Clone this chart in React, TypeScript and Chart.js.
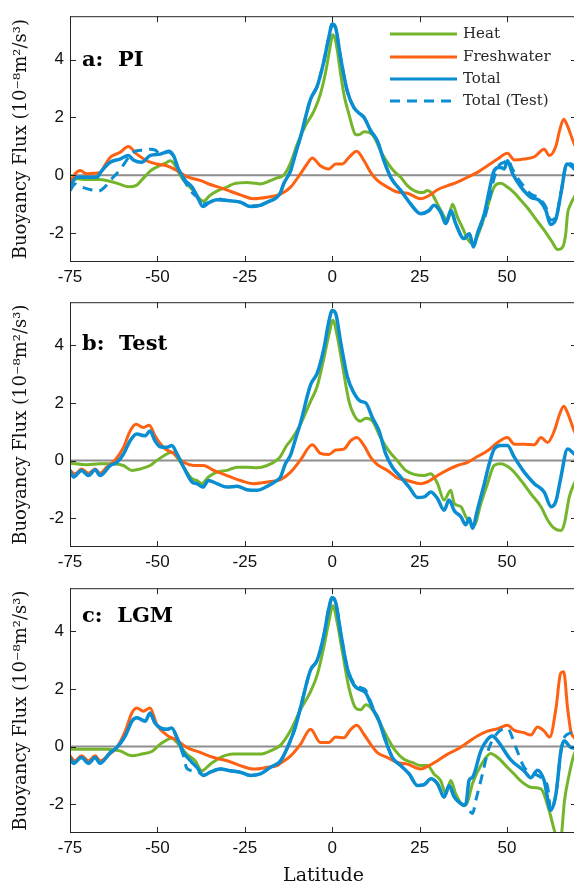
import React, { useEffect, useRef } from 'react';
import { Chart, registerables } from 'chart.js';

Chart.register(...registerables);

// ---------- data: [latitude, buoyancy flux (1e-8 m^2/s^3)] ----------
const X_TICKS = [-75, -50, -25, 0, 25, 50];
const Y_TICKS = [-2, 0, 2, 4];
const ZERO_LINE: [number, number][] = [[-75, 0], [70, 0]];

const A_HEAT: [number, number][] = [[-75,-0.24],[-73,-0.12],[-70,-0.15],[-67,-0.15],[-64,-0.2],[-61,-0.3],[-58.3,-0.4],[-56,-0.35],[-54,-0.1],[-52,0.15],[-50,0.3],[-48,0.4],[-46.3,0.5],[-45,0.35],[-43.5,0.0],[-42,-0.25],[-40,-0.5],[-38.5,-0.75],[-36.8,-0.9],[-35,-0.7],[-33,-0.55],[-30,-0.4],[-28.2,-0.3],[-24.4,-0.25],[-22,-0.28],[-20.6,-0.3],[-18,-0.2],[-16,-0.1],[-13.9,0.0],[-12,0.4],[-10,1.08],[-7.5,1.75],[-5.3,2.2],[-3.4,2.8],[-2,3.5],[-0.8,4.3],[0.2,4.86],[1.2,4.5],[2.4,3.5],[3.5,2.7],[4.8,2.1],[5.8,1.65],[6.7,1.4],[7.6,1.4],[9.1,1.5],[11.5,1.4],[12.5,1.2],[13.8,0.85],[15.2,0.55],[16.7,0.28],[18,0.1],[19.6,-0.07],[21.5,-0.36],[23,-0.5],[24.4,-0.58],[26,-0.6],[27.2,-0.53],[28.3,-0.6],[29.1,-0.76],[31,-1.2],[33,-1.56],[34.4,-1.0],[35.8,-1.45],[37.2,-1.8],[38.7,-2.2],[40.1,-2.36],[41.2,-2.2],[42.5,-1.8],[44.4,-1.1],[46.3,-0.41],[48.2,-0.28],[50.1,-0.41],[52,-0.6],[54,-0.87],[56,-1.15],[57.8,-1.45],[60.6,-1.9],[62.6,-2.25],[64.5,-2.57],[65.9,-2.48],[66.8,-2.0],[67.3,-1.33],[68.2,-1.0],[69.2,-0.76],[70,-0.6]];
const A_FRESH: [number, number][] = [[-75,-0.24],[-73.5,0.05],[-72.1,0.16],[-70.2,0.05],[-68.3,0.07],[-66.4,0.1],[-65,0.35],[-63.5,0.62],[-60.7,0.79],[-58.3,0.99],[-55.9,0.73],[-53,0.5],[-50.2,0.39],[-47.3,0.33],[-44.4,0.16],[-41.6,-0.05],[-37.8,-0.18],[-34.9,-0.32],[-31.1,-0.47],[-26.3,-0.68],[-22.5,-0.81],[-18.6,-0.76],[-14.8,-0.65],[-11.9,-0.41],[-9.1,0.05],[-7.2,0.39],[-5.7,0.6],[-3.4,0.33],[-1,0.22],[1,0.39],[2.9,0.39],[4.8,0.62],[7,0.83],[9.1,0.5],[11,0.1],[12.9,-0.18],[15.8,-0.41],[18.6,-0.58],[21.5,-0.62],[25.3,-0.81],[27.7,-0.7],[30.1,-0.5],[33,-0.36],[35.8,-0.24],[38.7,-0.07],[41.5,0.1],[44.4,0.33],[47.3,0.56],[50.1,0.76],[52.1,0.53],[54.9,0.56],[57.8,0.64],[60.6,0.9],[62.1,0.68],[64,1.02],[65,1.54],[66.2,1.94],[67.3,1.7],[69.2,1.08],[70,0.9]];
const A_TOTAL: [number, number][] = [[-75,-0.41],[-73.1,-0.07],[-70.2,-0.07],[-67.4,-0.07],[-65.9,0.16],[-63.5,0.45],[-60.7,0.56],[-58.3,0.68],[-56.9,0.53],[-54.5,0.45],[-52.1,0.68],[-49.2,0.73],[-46.8,0.83],[-45.4,0.68],[-44,0.22],[-42,-0.18],[-40.1,-0.41],[-38.7,-0.7],[-37,-1.08],[-35.4,-0.96],[-33,-0.85],[-30.1,-0.87],[-26.3,-0.93],[-23.4,-1.08],[-20.6,-1.04],[-18.6,-0.93],[-15.8,-0.76],[-14.8,-0.6],[-13.9,-0.3],[-11.9,0.16],[-10.5,0.75],[-9.1,1.31],[-6.2,2.63],[-4.3,3.08],[-2.4,3.94],[-1,4.75],[0,5.23],[1,5.09],[2.4,4.06],[4.3,2.91],[6.2,2.34],[8.1,2.11],[9.1,2.0],[11,1.54],[12.9,1.19],[14.8,0.5],[16.7,-0.07],[19.6,-0.53],[22.4,-0.99],[25.3,-1.33],[27.7,-1.22],[29.1,-1.04],[31,-1.27],[32.5,-1.67],[33.9,-1.22],[35.3,-1.67],[37.7,-2.19],[39.2,-2.02],[40.4,-2.48],[41.5,-2.02],[43.5,-1.33],[44.9,-0.53],[46.3,0.16],[47.8,0.28],[49.2,0.22],[50.1,0.5],[51.6,0.05],[54,-0.41],[56.8,-0.76],[59.2,-0.87],[61.1,-1.22],[62.4,-1.7],[64,-1.5],[65.4,-0.64],[67.1,0.39],[68.3,0.33],[69.2,0.22],[70,0.2]];
const A_TEST: [number, number][] = [[-75,-0.53],[-73.5,-0.3],[-72,-0.4],[-71.2,-0.43],[-69,-0.5],[-66.9,-0.55],[-65,-0.4],[-63.5,-0.18],[-60.7,0.19],[-57.8,0.68],[-56,0.85],[-54,0.87],[-52,0.9],[-50.6,0.87],[-49.2,0.73],[-46.8,0.8],[-45.4,0.65],[-44,0.2],[-42,-0.25],[-40.1,-0.6],[-38.7,-0.75],[-37,-1.0],[-35.4,-0.95],[-33,-0.82],[-30.1,-0.87],[-26.3,-0.93],[-23.4,-1.06],[-20.6,-1.04],[-18.6,-0.93],[-15.8,-0.76],[-14.8,-0.6],[-13.9,-0.3],[-11.9,0.16],[-10.5,0.75],[-9.1,1.31],[-6.2,2.63],[-4.3,3.08],[-2.4,3.94],[-1,4.75],[0,5.2],[1,5.07],[2.4,4.06],[4.3,2.91],[6.2,2.34],[8.1,2.11],[9.1,2.0],[11,1.54],[12.9,1.19],[14.8,0.5],[16.7,-0.07],[19.6,-0.53],[22.4,-0.99],[25.3,-1.33],[27.7,-1.22],[29.1,-1.04],[31,-1.27],[32.5,-1.67],[33.9,-1.22],[35.3,-1.67],[37.7,-2.19],[39.2,-2.02],[40.4,-2.45],[41.5,-2.02],[42.5,-1.75],[43.5,-1.5],[44.9,-0.85],[46.3,-0.1],[47.8,0.35],[49.2,0.45],[50.1,0.55],[51.6,0.2],[53,-0.1],[54.9,-0.4],[56.8,-0.65],[59.2,-0.8],[61.1,-1.1],[62.4,-1.55],[64,-1.45],[65.4,-0.6],[67.1,0.4],[68.3,0.4],[69.2,0.3],[70,0.25]];

const B_HEAT: [number, number][] = [[-75,-0.09],[-70.2,-0.14],[-66.4,-0.11],[-62.6,-0.11],[-59.7,-0.17],[-57.3,-0.34],[-54.9,-0.29],[-52.1,-0.17],[-50.2,0],[-47.3,0.23],[-45.9,0.29],[-44.4,0.11],[-42.5,-0.23],[-40.1,-0.63],[-38.7,-0.69],[-37.3,-0.8],[-35.4,-0.57],[-33,-0.4],[-30.1,-0.34],[-27.2,-0.23],[-24.4,-0.23],[-21.5,-0.25],[-18.6,-0.17],[-15.8,0.02],[-14.8,0.15],[-12.9,0.55],[-11.9,0.69],[-9.1,1.26],[-6.2,2.06],[-4.3,2.58],[-2.4,3.55],[-1,4.35],[0.2,4.87],[1.4,4.35],[2.9,3.32],[4.8,2.06],[6.7,1.49],[8.1,1.37],[9.6,1.47],[11.5,1.37],[13.8,0.8],[16.2,0.34],[18.6,0],[21,-0.34],[23.4,-0.48],[26.3,-0.52],[28.2,-0.46],[30.1,-0.8],[32,-1.37],[33.9,-1.03],[34.9,-1.49],[36.8,-1.6],[38.2,-1.95],[39.6,-2.18],[40.6,-2.23],[42.5,-1.49],[44.4,-0.8],[46.3,-0.17],[48.2,-0.11],[51.1,-0.29],[54,-0.69],[56.8,-1.15],[59.7,-1.6],[61.6,-2.06],[63.5,-2.35],[65.4,-2.43],[66.4,-2.18],[67.8,-1.26],[69.2,-0.8],[70,-0.6]];
const B_FRESH: [number, number][] = [[-75,-0.34],[-73.6,-0.46],[-71.7,-0.29],[-69.7,-0.44],[-67.8,-0.29],[-66.4,-0.44],[-64.5,-0.23],[-62.1,0.02],[-59.7,0.46],[-57.8,1.03],[-56.1,1.26],[-54,1.15],[-52.3,1.23],[-50.7,0.86],[-48.3,0.46],[-45.4,0.25],[-42.5,-0.06],[-39.7,-0.17],[-36.8,-0.17],[-33.9,-0.34],[-30.1,-0.52],[-26.3,-0.69],[-22.5,-0.8],[-18.6,-0.74],[-14.8,-0.66],[-11.9,-0.4],[-9.1,0.02],[-5.7,0.55],[-3.4,0.25],[-1,0.21],[1,0.37],[3.3,0.4],[5.3,0.69],[7,0.8],[9.1,0.52],[11,0.11],[12.9,-0.14],[15.8,-0.34],[18.6,-0.6],[21.5,-0.69],[25.3,-0.8],[27.7,-0.71],[30.1,-0.52],[33,-0.32],[35.8,-0.17],[38.7,-0.06],[41.5,0.14],[44.4,0.34],[47.3,0.63],[50.1,0.8],[52.1,0.57],[54.9,0.57],[57.8,0.55],[59.7,0.8],[61.6,0.63],[63.5,1.03],[65,1.6],[66.2,1.89],[67.3,1.66],[69.2,1.03],[70,0.85]];
const B_TOTAL: [number, number][] = [[-75,-0.34],[-74,-0.57],[-71.7,-0.34],[-69.7,-0.52],[-67.8,-0.32],[-66.4,-0.52],[-63.5,-0.17],[-61.6,-0.06],[-59.7,0.23],[-57.8,0.69],[-55.9,0.92],[-53.5,0.86],[-52.1,1.03],[-50.7,0.69],[-49.2,0.48],[-47.3,0.46],[-45.9,0.52],[-44.4,0.23],[-42.5,-0.23],[-40.1,-0.74],[-38.7,-0.8],[-37,-0.92],[-35.4,-0.69],[-33,-0.8],[-30.1,-0.92],[-27.2,-0.89],[-24.4,-1.01],[-21.5,-1.03],[-18.6,-0.89],[-15.8,-0.69],[-14.8,-0.57],[-13.4,-0.11],[-11.9,0.2],[-10.5,0.75],[-9.1,1.3],[-6.2,2.63],[-4.3,3.04],[-2.4,3.89],[-1,4.81],[0,5.21],[1,5.1],[2.4,4.12],[4.3,2.92],[6.2,2.35],[8.1,2.06],[9.6,2.0],[11.5,1.49],[13.4,1.03],[15.3,0.23],[17.2,-0.23],[19.6,-0.57],[22,-0.92],[24.4,-1.28],[26.3,-1.26],[28.2,-1.09],[30.1,-1.32],[32,-1.72],[33.4,-1.37],[34.9,-1.74],[36.8,-1.95],[38.2,-2.23],[39.2,-2.0],[40.1,-2.35],[41.5,-1.72],[43.5,-0.8],[44.9,-0.11],[46.3,0.4],[48.2,0.52],[50.1,0.52],[52.1,0.11],[54.9,-0.4],[57.8,-0.8],[60.6,-1.09],[62.6,-1.6],[64,-1.4],[65.4,-0.57],[67.3,0.4],[69.2,0.23],[70,0.15]];

const C_HEAT: [number, number][] = [[-75,-0.09],[-70.2,-0.09],[-64.5,-0.09],[-60.7,-0.15],[-57.3,-0.32],[-54.5,-0.26],[-51.6,-0.17],[-49.2,0.08],[-45.9,0.29],[-44,0.08],[-41.6,-0.26],[-39.2,-0.49],[-37.3,-0.84],[-34.9,-0.61],[-32,-0.38],[-28.2,-0.26],[-24.4,-0.26],[-20.6,-0.26],[-17.7,-0.15],[-14.8,0.05],[-12,0.54],[-9.1,1.28],[-6.2,1.91],[-4.3,2.49],[-2.4,3.46],[-1,4.32],[0.2,4.89],[1.4,4.32],[2.9,3.29],[4.8,2.03],[6.7,1.34],[8.1,1.28],[9.6,1.45],[11.5,1.28],[13.4,0.88],[15.8,0.31],[18.1,-0.15],[20.5,-0.44],[22.9,-0.55],[25.3,-0.66],[27.2,-0.66],[29.1,-0.95],[31,-1.18],[32.5,-1.64],[33.9,-1.18],[35.3,-1.64],[37.7,-2.05],[38.7,-1.92],[40.1,-1.29],[42.5,-0.66],[45.3,-0.24],[47.3,-0.38],[50.1,-0.72],[52,-0.95],[54,-1.2],[56.8,-1.41],[59.7,-1.47],[62,-2.21],[63.5,-2.9],[64.5,-3.3],[65.5,-3.1],[66.4,-1.9],[67.8,-0.95],[69.2,-0.26],[70,-0.1]];
const C_FRESH: [number, number][] = [[-75,-0.32],[-73.6,-0.49],[-71.7,-0.32],[-69.7,-0.49],[-67.8,-0.32],[-66.4,-0.49],[-63.5,-0.24],[-61.6,-0.03],[-59.2,0.54],[-57.3,1.17],[-55.9,1.34],[-54,1.23],[-52.1,1.34],[-50.2,0.77],[-47.3,0.4],[-44.4,0.22],[-41.6,-0.03],[-37.8,-0.2],[-33.9,-0.38],[-30.1,-0.49],[-26.3,-0.66],[-22.5,-0.78],[-18.6,-0.72],[-15.8,-0.66],[-14.8,-0.58],[-11.9,-0.32],[-9.1,0.08],[-6.2,0.6],[-3.4,0.14],[-1,0.14],[1,0.33],[3.3,0.31],[5.3,0.6],[7,0.74],[9.1,0.42],[11,0.08],[12.9,-0.21],[15.8,-0.38],[18.6,-0.55],[21.5,-0.61],[25.3,-0.78],[27.7,-0.66],[30.1,-0.49],[33,-0.26],[35.8,-0.09],[38.7,0.14],[41.5,0.37],[44.4,0.54],[47.3,0.62],[50.1,0.74],[52.1,0.56],[54.9,0.48],[56.8,0.4],[58.7,0.68],[60.6,0.54],[62.2,0.33],[64,1.34],[65.3,2.54],[66.2,2.6],[67.3,1.34],[68.3,0.5],[69.2,0.31],[70,0.2]];
const C_TOTAL: [number, number][] = [[-75,-0.38],[-74,-0.58],[-71.7,-0.38],[-69.7,-0.58],[-67.8,-0.38],[-66.4,-0.58],[-63.5,-0.21],[-61.6,-0.03],[-59.2,0.37],[-57.3,0.88],[-55.9,1.0],[-53.5,0.88],[-52.1,1.17],[-50.7,0.82],[-49.2,0.65],[-47.3,0.6],[-45.9,0.65],[-44.4,0.31],[-42.5,-0.21],[-40.1,-0.55],[-38.7,-0.72],[-36.8,-1.0],[-34.9,-0.89],[-32,-0.78],[-29.2,-0.84],[-26.3,-0.89],[-23.4,-1.0],[-20.6,-0.95],[-17.7,-0.72],[-14.8,-0.5],[-12,0.2],[-10.5,0.7],[-9.1,1.34],[-6.2,2.66],[-4.3,3.0],[-2.4,3.86],[-1,4.78],[0,5.18],[1,5.0],[2.4,3.97],[4.3,2.71],[6.2,2.14],[8.1,1.97],[9.6,1.86],[11.5,1.34],[13.4,0.88],[15.3,0.19],[17.2,-0.38],[19.6,-0.66],[22,-0.95],[24.4,-1.35],[26.3,-1.32],[28.2,-1.12],[30.1,-1.29],[32,-1.75],[33.4,-1.35],[34.9,-1.75],[36.8,-1.98],[37.7,-2.04],[38.4,-1.9],[39.1,-1.18],[40.1,-1.07],[42.5,-0.15],[44.4,0.25],[45.8,0.37],[47.3,0.2],[51,-0.45],[54.9,-0.85],[56.8,-1.08],[58.7,-0.82],[60.6,-1.18],[62.5,-2.21],[64,-1.63],[65.4,-0.15],[66.3,0.2],[68.3,-0.03],[70,-0.05]];
const C_TEST: [number, number][] = [[-75,-0.38],[-74,-0.58],[-71.7,-0.38],[-69.7,-0.58],[-67.8,-0.38],[-66.4,-0.58],[-63.5,-0.21],[-61.6,-0.03],[-59.2,0.37],[-57.3,0.88],[-55.9,1.0],[-53.5,0.9],[-52.1,1.12],[-50.7,0.82],[-49.2,0.65],[-47.3,0.6],[-45.9,0.62],[-44.4,0.31],[-43.5,0.0],[-42.6,-0.3],[-41.6,-0.75],[-39.7,-0.84],[-38.7,-0.85],[-36.8,-1.0],[-34.9,-0.89],[-32,-0.78],[-29.2,-0.84],[-26.3,-0.89],[-23.4,-1.0],[-20.6,-0.95],[-17.7,-0.72],[-14.8,-0.5],[-12,0.2],[-10.5,0.7],[-9.1,1.34],[-6.2,2.66],[-4.3,3.0],[-2.4,3.86],[-1,4.78],[0,5.15],[1,5.0],[2.4,3.97],[4.3,2.75],[6.2,2.2],[8.1,2.05],[9.6,1.95],[11.5,1.4],[13.4,0.9],[15.3,0.19],[17.2,-0.38],[19.6,-0.66],[22,-0.95],[24.4,-1.35],[26.3,-1.32],[28.2,-1.12],[30.1,-1.29],[32,-1.75],[33.4,-1.35],[34.9,-1.75],[36.8,-1.98],[37.7,-2.04],[39,-2.2],[40.1,-2.32],[41.2,-1.8],[42.5,-1.18],[44.9,-0.03],[47.3,0.48],[50.1,0.63],[52.5,-0.03],[54.9,-0.72],[57,-0.9],[59.7,-1.07],[61.6,-1.4],[62.5,-2.21],[64,-1.63],[65.4,-0.15],[66.3,0.3],[67.3,0.43],[68.7,0.48],[70,0.45]];

const LEGEND_LABELS = ['Heat', 'Freshwater', 'Total', 'Total (Test)'];
const Y_TITLE = 'Buoyancy Flux (10\u207B\u2078m\u00B2/s\u00B3)';
const X_TITLE = 'Latitude';

// ---------- styles ----------
const HEAT_COLOR = '#74b52c';
const FRESH_COLOR = '#ff6113';
const TOTAL_COLOR = '#0b8dd1';
const ZERO_COLOR = '#8e8e8e';
const AXIS_COLOR = '#262626';
const SERIF = '"DejaVu Serif", serif';
const SANS = '"Liberation Sans", Arial, sans-serif';
const TICK_LEN = 6;

type Pair = [number, number];
interface PanelCfg {
  top: number; h: number; padTop: number; xh: number;
  label: string; labelDy: number; legend: boolean; xTitle: boolean;
  heat: Pair[]; fresh: Pair[]; total: Pair[]; test: Pair[] | null;
}

const PANELS: PanelCfg[] = [
  { top: 0, h: 286, padTop: 14, xh: 24, label: 'a:  PI', labelDy: 44, legend: true, xTitle: false, heat: A_HEAT, fresh: A_FRESH, total: A_TOTAL, test: A_TEST },
  { top: 286, h: 286, padTop: 14, xh: 25, label: 'b:  Test', labelDy: 42, legend: false, xTitle: false, heat: B_HEAT, fresh: B_FRESH, total: B_TOTAL, test: null },
  { top: 572, h: 314, padTop: 13, xh: 53, label: 'c:  LGM', labelDy: 28, legend: false, xTitle: true, heat: C_HEAT, fresh: C_FRESH, total: C_TOTAL, test: C_TEST },
];

const toPts = (d: Pair[]) => d.map(([x, y]) => ({ x, y }));

function line(d: Pair[], color: string, width: number, order: number, dash: number[] = []) {
  return {
    data: toPts(d), borderColor: color, backgroundColor: color, borderWidth: width,
    pointRadius: 0, pointHoverRadius: 0, fill: false, cubicInterpolationMode: 'monotone',
    borderDash: dash, borderJoinStyle: 'round', borderCapStyle: 'butt', order,
  };
}

function Panel({ cfg }: { cfg: PanelCfg }) {
  const ref = useRef<HTMLCanvasElement>(null);
  useEffect(() => {
    const datasets: any[] = [line(ZERO_LINE, ZERO_COLOR, 2, 10)];
    datasets.push(line(cfg.heat, HEAT_COLOR, 3, 4));
    datasets.push(line(cfg.fresh, FRESH_COLOR, 3, 3));
    datasets.push(line(cfg.total, TOTAL_COLOR, 3.5, 2));
    if (cfg.test) datasets.push(line(cfg.test, TOTAL_COLOR, 3, 1, [10, 7]));

    const decor = {
      id: 'decor',
      afterDatasetsDraw(chart: any) {
        const { ctx, chartArea } = chart;
        const { left, right, top, bottom } = chartArea;
        const xs = chart.scales.x, ys = chart.scales.y;
        ctx.save();
        ctx.strokeStyle = AXIS_COLOR;
        ctx.lineWidth = 1;
        ctx.strokeRect(left + 0.5, top + 0.5, right - left - 1, bottom - top - 1);
        ctx.beginPath();
        X_TICKS.forEach((v) => {
          const px = Math.round(xs.getPixelForValue(v)) + 0.5;
          ctx.moveTo(px, bottom); ctx.lineTo(px, bottom - TICK_LEN);
          ctx.moveTo(px, top); ctx.lineTo(px, top + TICK_LEN);
        });
        Y_TICKS.forEach((v) => {
          const py = Math.round(ys.getPixelForValue(v)) + 0.5;
          ctx.moveTo(left, py); ctx.lineTo(left + TICK_LEN, py);
          ctx.moveTo(right, py); ctx.lineTo(right - TICK_LEN, py);
        });
        ctx.stroke();

        ctx.fillStyle = '#000';
        ctx.textAlign = 'left';
        ctx.textBaseline = 'middle';
        ctx.font = `bold 21px ${SERIF}`;
        ctx.fillText(cfg.label, left + 12, top + cfg.labelDy);

        if (cfg.legend) {
          const colors = [HEAT_COLOR, FRESH_COLOR, TOTAL_COLOR, TOTAL_COLOR];
          const rows = [34, 57, 79, 101];
          ctx.font = `15px ${SERIF}`;
          ctx.fillStyle = AXIS_COLOR;
          LEGEND_LABELS.forEach((lab, i) => {
            ctx.beginPath();
            ctx.strokeStyle = colors[i];
            ctx.lineWidth = 3;
            ctx.setLineDash(i === 3 ? [10, 7] : []);
            ctx.moveTo(390, rows[i]);
            ctx.lineTo(457, rows[i]);
            ctx.stroke();
            ctx.setLineDash([]);
            ctx.fillText(lab, 463, rows[i]);
          });
        }
        ctx.restore();
      },
    };

    const chart = new Chart(ref.current as HTMLCanvasElement, {
      type: 'line',
      data: { datasets },
      plugins: [decor],
      options: {
        responsive: false,
        animation: false,
        events: [],
        layout: { padding: { top: cfg.padTop, right: 3, bottom: 0, left: 0 } },
        plugins: { legend: { display: false }, tooltip: { enabled: false } },
        scales: {
          x: {
            type: 'linear', min: -75, max: 70,
            grid: { display: false, drawTicks: false },
            border: { display: false },
            afterBuildTicks: (s: any) => { s.ticks = X_TICKS.map((v) => ({ value: v })); },
            afterFit: (s: any) => { s.height = cfg.xh; },
            ticks: { font: { family: SANS, size: 17 }, color: '#111', padding: 5, maxRotation: 0, autoSkip: false },
            title: {
              display: cfg.xTitle, text: X_TITLE, color: '#111',
              font: { family: SERIF, size: 19, lineHeight: 1 }, padding: { top: 0, bottom: 0 },
            },
          },
          y: {
            type: 'linear', min: -3, max: 5.5,
            grid: { display: false, drawTicks: false },
            border: { display: false },
            afterBuildTicks: (s: any) => { s.ticks = Y_TICKS.map((v) => ({ value: v })); },
            afterFit: (s: any) => { s.width = 70; },
            ticks: { font: { family: SANS, size: 17 }, color: '#111', padding: 6 },
            title: {
              display: true, text: Y_TITLE, color: '#111',
              font: { family: SERIF, size: 18 }, padding: { top: 11, bottom: 0 },
            },
          },
        },
      } as any,
    });
    return () => chart.destroy();
  }, [cfg]);
  return (
    <canvas
      ref={ref}
      width={580}
      height={cfg.h}
      style={{ position: 'absolute', left: 0, top: cfg.top, width: 580, height: cfg.h, display: 'block' }}
    />
  );
}

export default function App() {
  return (
    <div style={{ position: 'absolute', left: 0, top: 0, width: 574, height: 886, overflow: 'hidden', background: '#fff' }}>
      {PANELS.map((p, i) => (
        <Panel key={i} cfg={p} />
      ))}
    </div>
  );
}
